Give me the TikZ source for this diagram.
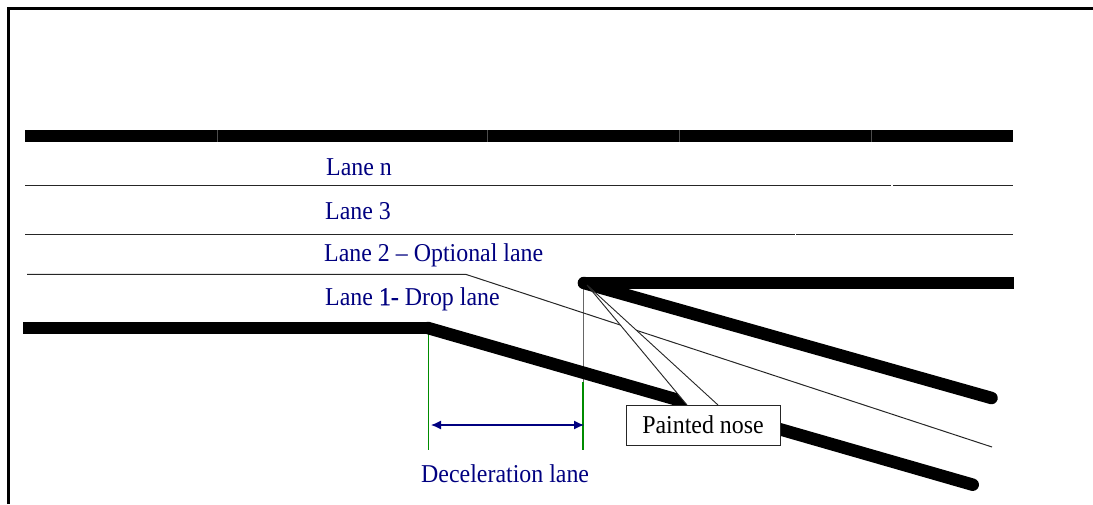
\documentclass[tikz,border=0pt]{standalone}
\usepackage{fontspec}
\setmainfont{Liberation Serif}[FakeStretch=0.93]
\newfontfamily\heavier{Liberation Serif}[FakeStretch=0.93,FakeBold=0.6]
\usetikzlibrary{arrows.meta}
\definecolor{lanenavy}{RGB}{0,0,128}
\definecolor{marker}{RGB}{0,140,0}
\tikzset{
  edge/.style={line width=12.5pt,line cap=butt,line join=round},
  slant/.style={line width=12.5pt,line cap=round},
  laneline/.style={line width=1pt,color=black!85},
  seam/.style={line width=0.7pt,color=black!70},
  gapmark/.style={line width=1.6pt,color=white},
  lanelabel/.style={anchor=west,inner sep=0pt,text=lanenavy,font=\fontsize{25.7}{28}\selectfont},
  dimline/.style={line width=1.2pt,color=lanenavy,{Latex[length=10pt,width=9pt]}-{Latex[length=10pt,width=9pt]}},
  calloutline/.style={line width=0.9pt,color=black!85,line join=miter},
}
\begin{document}
\begin{tikzpicture}[x=1pt,y=-1pt]
\useasboundingbox (0,0) rectangle (1093,504);
% frame
\coordinate (fa) at (8.5,504);
\coordinate (fb) at (8.5,8.5);
\coordinate (fc) at (1093,8.5);
\draw[line width=3pt,line join=miter] (fa) -- (fb) -- (fc);
% named points
\coordinate (topL) at (25,136);
\coordinate (topR) at (1013,136);
\coordinate (nL) at (25,185);
\coordinate (nR) at (1013,185);
\coordinate (tL) at (25,234);
\coordinate (tR) at (1013,234);
\coordinate (oL) at (27,274.4);
\coordinate (oM) at (466,274.4);
\coordinate (oR) at (992,447);
\coordinate (dL) at (23,328);
\coordinate (dM) at (428,328);
\coordinate (dR) at (972.7,484.7);
\coordinate (nose) at (584,283);
\coordinate (noseR) at (1013,283);
\coordinate (offR) at (991.5,398);
\coordinate (gTop) at (583,283);
\coordinate (gMid) at (583,382);
\coordinate (gBot) at (583,450);
\coordinate (mTop) at (428.5,328);
\coordinate (mBot) at (428.5,450);
\coordinate (dimL) at (431,425);
\coordinate (dimR) at (584,425);
% marker lines first
\draw[line width=1.2pt,color=marker] (gMid) -- (gBot);
\draw[line width=1pt,color=black!60] (gTop) -- (gMid);
\draw[line width=1pt,color=marker] (mTop) -- (mBot);
% road edges
\draw[edge] (topL) -- (topR);
\draw[laneline] (nL) -- (nR);
\draw[laneline] (tL) -- (tR);
\draw[laneline] (oL) -- (oM) -- (oR);
\draw[edge] (dL) -- (dM);
\draw[slant] (dM) -- (dR);
\draw[slant] (nose) -- (noseR);
\draw[slant] (nose) -- (offR);
\fill[white] (1013.5,275) rectangle (1030,292);
% seams in the top edge and small gaps in the lane lines
\foreach \sx/\nm in {217.5/a,487.5/b,679.5/c,871.5/d}{
  \coordinate (s\nm t) at (\sx,130);
  \coordinate (s\nm b) at (\sx,142);
  \draw[seam] (s\nm t) -- (s\nm b);
}
\coordinate (g1t) at (892,183);
\coordinate (g1b) at (892,187);
\draw[gapmark] (g1t) -- (g1b);
\coordinate (g2t) at (795.5,232);
\coordinate (g2b) at (795.5,236);
\draw[line width=0.8pt,color=white] (g2t) -- (g2b);
% dimension
\draw[dimline] (dimL) -- (dimR);
% labels
\node[lanelabel] (ln) at (326,167) {Lane n};
\node[lanelabel] (l3) at (325,211) {Lane 3};
\node[lanelabel] (l2) at (324,255) {Lane 2 – Optional lane};
\node[lanelabel] (l1) at (325,299) {Lane {\heavier 1-} Drop lane};
\node[lanelabel] (dec) at (421,474) {Deceleration lane};
% callout
\coordinate (pTip) at (587,285);
\coordinate (pA) at (687,405);
\coordinate (pB) at (718,405);
\fill[white] (pTip) -- (pA) -- (pB) -- cycle;
\draw[calloutline] (pA) -- (pTip) -- (pB);
\node[draw=black!85,fill=white,line width=0.9pt,minimum width=154pt,minimum height=40pt,inner sep=0pt,font=\fontsize{25.7}{28}\selectfont] (pn) at (703,425) {Painted nose};
\end{tikzpicture}
\end{document}
